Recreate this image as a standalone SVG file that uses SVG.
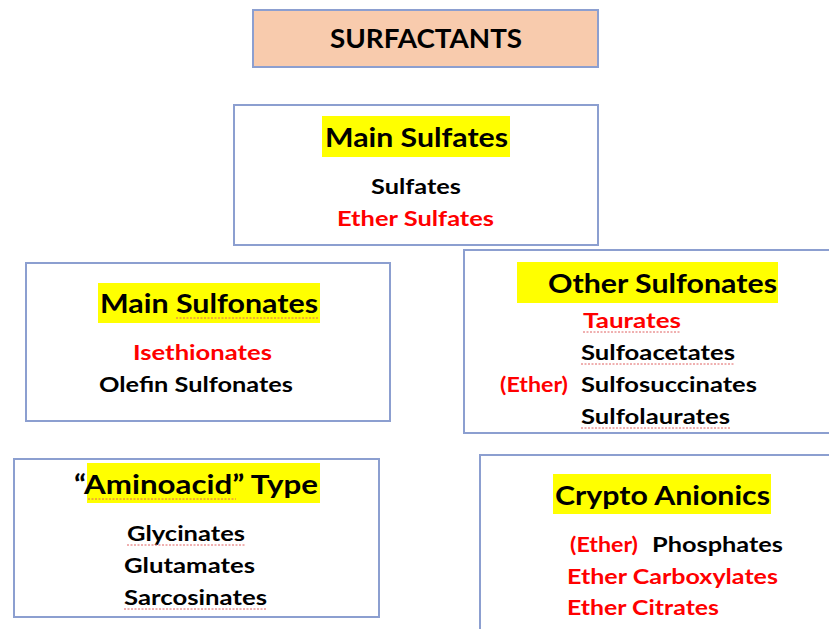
<svg xmlns="http://www.w3.org/2000/svg" width="829" height="629" viewBox="0 0 829 629">
<style>
.box{fill:#fff;stroke:#8c9fd0;stroke-width:2}
.hl{fill:#ffff00}
text{font-family:Lato,"Open Sans","Liberation Sans",sans-serif;font-weight:bold}
.h{font-size:27px;fill:#000}
.b{font-size:20px;fill:#000}
.r{font-size:20px;fill:#ff0000}
.sq{fill:none;stroke:#e06060;stroke-width:1;stroke-dasharray:2 1.5}
</style>
<rect width="829" height="629" fill="#fff"/>
<g id="surfactants">
<rect x="253" y="10" width="345" height="57" fill="#f8cbad" stroke="#8c9fd0" stroke-width="2"/>
<text class="h" x="330" y="48" textLength="192" lengthAdjust="spacingAndGlyphs">SURFACTANTS</text>
</g>
<g id="main-sulfates">
<rect class="box" x="234" y="105" width="364" height="140"/>
<rect class="hl" x="322" y="116" width="188" height="41"/>
<text class="h" x="325" y="147" textLength="183" lengthAdjust="spacingAndGlyphs">Main Sulfates</text>
<text class="b" x="371" y="194" textLength="90" lengthAdjust="spacingAndGlyphs">Sulfates</text>
<text class="r" x="337" y="226" textLength="157" lengthAdjust="spacingAndGlyphs">Ether Sulfates</text>
</g>
<g id="main-sulfonates">
<rect class="box" x="26" y="263" width="364" height="158"/>
<rect class="hl" x="98" y="283" width="222" height="40"/>
<text class="h" x="100" y="313" textLength="218" lengthAdjust="spacingAndGlyphs">Main Sulfonates</text>
<path class="sq" d="M176 318 H318"/>
<text class="r" x="133" y="360" textLength="139" lengthAdjust="spacingAndGlyphs">Isethionates</text>
<text class="b" x="99" y="392" textLength="194" lengthAdjust="spacingAndGlyphs">Olefin Sulfonates</text>
</g>
<g id="other-sulfonates">
<rect class="box" x="464" y="250" width="370" height="183"/>
<rect class="hl" x="517" y="262" width="261" height="41"/>
<text class="h" x="548" y="293" textLength="229" lengthAdjust="spacingAndGlyphs">Other Sulfonates</text>
<text class="r" x="583" y="328" textLength="98" lengthAdjust="spacingAndGlyphs">Taurates</text>
<path class="sq" d="M583 332 H681"/>
<text class="b" x="581" y="360" textLength="154" lengthAdjust="spacingAndGlyphs">Sulfoacetates</text>
<path class="sq" d="M581 364 H735"/>
<text class="r" x="500" y="392" font-size="18" textLength="68" lengthAdjust="spacingAndGlyphs">(Ether)</text>
<text class="b" x="581" y="392" textLength="176" lengthAdjust="spacingAndGlyphs">Sulfosuccinates</text>
<text class="b" x="581" y="424" textLength="149" lengthAdjust="spacingAndGlyphs">Sulfolaurates</text>
<path class="sq" d="M581 428 H730"/>
</g>
<g id="aminoacid-type">
<rect class="box" x="14" y="459" width="365" height="158"/>
<rect class="hl" x="87" y="463" width="233" height="40"/>
<text class="h" x="74" y="494" textLength="244" lengthAdjust="spacingAndGlyphs">“Aminoacid” Type</text>
<path class="sq" d="M88 499 H236"/>
<text class="b" x="127" y="541" textLength="118" lengthAdjust="spacingAndGlyphs">Glycinates</text>
<path class="sq" d="M127 545 H245"/>
<text class="b" x="124" y="573" textLength="131" lengthAdjust="spacingAndGlyphs">Glutamates</text>
<text class="b" x="124" y="605" textLength="143" lengthAdjust="spacingAndGlyphs">Sarcosinates</text>
<path class="sq" d="M124 609 H267"/>
</g>
<g id="crypto-anionics">
<rect class="box" x="480" y="455" width="360" height="190"/>
<rect class="hl" x="553" y="474" width="218" height="40"/>
<text class="h" x="555" y="505" textLength="215" lengthAdjust="spacingAndGlyphs">Crypto Anionics</text>
<text class="r" x="570" y="552" font-size="18" textLength="68" lengthAdjust="spacingAndGlyphs">(Ether)</text>
<text class="b" x="652" y="552" textLength="131" lengthAdjust="spacingAndGlyphs">Phosphates</text>
<text class="r" x="567" y="584" textLength="211" lengthAdjust="spacingAndGlyphs">Ether Carboxylates</text>
<text class="r" x="567" y="615" textLength="152" lengthAdjust="spacingAndGlyphs">Ether Citrates</text>
</g>
</svg>
